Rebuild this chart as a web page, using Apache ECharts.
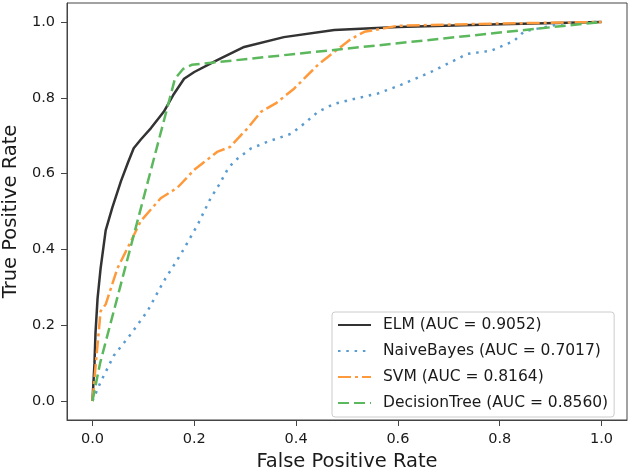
<!DOCTYPE html>
<html>
<head>
<meta charset="utf-8">
<script src="https://cdn.jsdelivr.net/npm/echarts@6/dist/echarts.min.js"></script>
<style>html,body{margin:0;padding:0;background:#fff;}#c{width:629px;height:469px;}</style>
</head>
<body>
<div id="c"></div>
<script>
const seriesNames = ['ELM (AUC = 0.9052)', 'NaiveBayes (AUC = 0.7017)', 'SVM (AUC = 0.8164)', 'DecisionTree (AUC = 0.8560)'];
const tickValues = [0, 0.2, 0.4, 0.6, 0.8, 1.0];
const elm = [[0,0],[0.004,0.1],[0.006,0.18],[0.01,0.27],[0.016,0.35],[0.026,0.45],[0.039,0.51],[0.056,0.58],[0.07,0.63],[0.081,0.667],[0.095,0.69],[0.115,0.72],[0.14,0.763],[0.16,0.81],[0.18,0.85],[0.2,0.868],[0.246,0.9],[0.298,0.934],[0.376,0.96],[0.475,0.979],[0.6,0.987],[0.8,0.994],[1,1]];
const naiveBayes = [[0,0],[0.016,0.05],[0.042,0.12],[0.075,0.176],[0.108,0.237],[0.14,0.316],[0.173,0.386],[0.207,0.466],[0.232,0.535],[0.249,0.571],[0.265,0.61],[0.278,0.632],[0.311,0.666],[0.344,0.684],[0.39,0.705],[0.416,0.732],[0.443,0.763],[0.475,0.784],[0.514,0.797],[0.56,0.811],[0.606,0.834],[0.665,0.868],[0.698,0.89],[0.737,0.916],[0.783,0.924],[0.828,0.95],[0.848,0.975],[0.93,0.998],[1,1]];
const svm = [[0,0],[0.006,0.09],[0.016,0.237],[0.026,0.255],[0.049,0.35],[0.075,0.42],[0.095,0.475],[0.134,0.535],[0.167,0.563],[0.2,0.61],[0.246,0.658],[0.27,0.67],[0.305,0.72],[0.331,0.763],[0.36,0.785],[0.396,0.824],[0.443,0.887],[0.475,0.921],[0.508,0.955],[0.534,0.974],[0.6,0.99],[0.8,0.996],[1,1]];
const decisionTree = [[0,0],[0.015,0.1],[0.162,0.85],[0.178,0.876],[0.195,0.887],[1,1]];

const chart = echarts.init(document.getElementById('c'), null, {renderer: 'canvas'});
const font = 'DejaVu Sans';
function axisCommon(name, gap, labelMargin) {
  return {
    type: 'value', min: -0.05, max: 1.05,
    name: name, nameLocation: 'middle', nameGap: gap,
    nameTextStyle: {fontFamily: font, fontSize: 19.5, color: '#1a1a1a'},
    axisLine: {show: true, onZero: false, lineStyle: {color: '#444', width: 1}},
    axisTick: {show: true, inside: false, length: 6, customValues: tickValues, lineStyle: {color: '#444'}},
    axisLabel: {customValues: tickValues, margin: labelMargin, fontFamily: font, fontSize: 14.5, color: '#1a1a1a', formatter: v => v.toFixed(1)},
    splitLine: {show: false}
  };
}
const xa = axisCommon('False Positive Rate', 28, 12);
const ya = axisCommon('True Positive Rate', 41, 12);
function mk(name, data, color, width, type, opacity) {
  return {name: name, type: 'line', data: data, showSymbol: false, symbol: 'none', smooth: false,
    lineStyle: {color: color, width: width, type: type, opacity: opacity}, itemStyle: {color: color}};
}
chart.setOption({
  animation: false,
  backgroundColor: '#fff',
  grid: {left: 67, right: 2, top: 3, bottom: 49, containLabel: false, outerBoundsMode: 'none', show: true, borderColor: '#444', borderWidth: 1, backgroundColor: 'transparent'},
  xAxis: xa,
  yAxis: ya,
  legend: {
    orient: 'vertical', left: 332, top: 312,
    padding: [5, 6, 6, 5],
    itemWidth: 33, itemHeight: 14, itemGap: 10,
    borderColor: '#ccc', borderWidth: 1, borderRadius: 3, backgroundColor: 'rgba(255,255,255,0.8)',
    itemStyle: {color: 'rgba(0,0,0,0)', borderWidth: 0, opacity: 0},
    textStyle: {fontFamily: font, fontSize: 15.5, color: '#1a1a1a', padding: [0, 0, 0, 7], width: 233, overflow: 'none'},
    data: seriesNames
  },
  series: [
    mk(seriesNames[0], elm, '#333333', 2.5, 'solid', 1),
    mk(seriesNames[1], naiveBayes, '#5a9bd0', 2.5, [2.5, 5.8], 1),
    mk(seriesNames[2], svm, '#ff9a3c', 2.5, [13, 4, 3, 4], 1),
    mk(seriesNames[3], decisionTree, '#5cb85c', 2.5, [11, 5], 1)
  ]
});
</script>
</body>
</html>
